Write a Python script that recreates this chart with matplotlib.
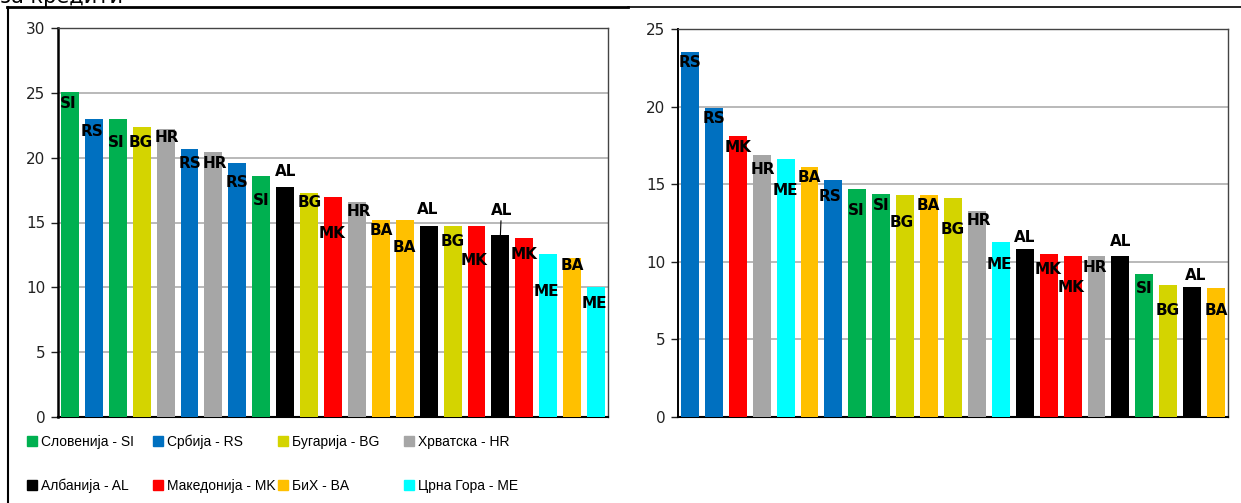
import matplotlib.pyplot as plt
from matplotlib.patches import Patch
from matplotlib.lines import Line2D

# colours per country code
colors = {
    "SI": "#00B050", "RS": "#0070C0", "BG": "#D4D400", "HR": "#A6A6A6",
    "AL": "#000000", "MK": "#FF0000", "BA": "#FFC000", "ME": "#00FFFF",
}
legend_names = ["Словенија - SI", "Србија - RS", "Бугарија - BG", "Хрватска - HR",
                "Албанија - AL", "Македонија - MK", "БиХ - BA", "Црна Гора - ME"]
legend_codes = ["SI", "RS", "BG", "HR", "AL", "MK", "BA", "ME"]

left_codes = ["SI", "RS", "SI", "BG", "HR", "RS", "HR", "RS", "SI", "AL", "BG", "MK",
              "HR", "BA", "BA", "AL", "BG", "MK", "AL", "MK", "ME", "BA", "ME"]
left_values = [25.1, 23.0, 23.0, 22.4, 22.2, 20.7, 20.4, 19.6, 18.6, 17.7, 17.3, 17.0,
               16.6, 15.2, 15.2, 14.7, 14.7, 14.7, 14.0, 13.8, 12.6, 12.3, 10.0]

right_codes = ["RS", "RS", "MK", "HR", "ME", "BA", "RS", "SI", "SI", "BG", "BA", "BG",
               "HR", "ME", "AL", "MK", "MK", "HR", "AL", "SI", "BG", "AL", "BA"]
right_values = [23.5, 19.9, 18.1, 16.9, 16.6, 16.1, 15.3, 14.7, 14.4, 14.3, 14.3, 14.1,
                13.3, 11.3, 10.8, 10.5, 10.4, 10.4, 10.4, 9.2, 8.5, 8.4, 8.3]

# label placement relative to bar top (pixels: dx, dy; + is up)
left_dx = [-2, -2, -2, -1, 1, 0, 1, 0, 0, 0, 1, -1, 2, 0, 0, -1, 0, -2, 1, 0, -2, 0, -2]
left_dy = [-12, -13, -24, -16, -8, -15, -11, -20, -25, 16, -10, -37, -10, -11, -28, 17,
           -15, -34, 25, -16, -38, -8, -16]
right_dx = [0, 0, 0, 1, 0, 0, -3, -1, 0, -3, -1, 0, 2, -1, 0, -1, -2, -2, 0, 0, -1, 3, 0]
right_dy = [-10, -10, -11, -15, -31, -10, -17, -22, -12, -27, -10, -31, -10, -23, 12, -15,
            -32, -12, 14, -14, -25, 11, -22]

W, H = 1241, 503
fig = plt.figure(figsize=(W / 100, H / 100), dpi=100)


def draw(ax, codes, values, dxs, dys, ymax, leader=None, spine_w=1.8):
    x = list(range(len(values)))
    ax.bar(x, values, width=0.75, color=[colors[c] for c in codes], zorder=3)
    ax.set_xlim(-0.5, len(values) - 0.5)
    ax.set_ylim(0, ymax)
    ax.set_yticks(range(0, ymax + 1, 5))
    ax.set_xticks([])
    ax.grid(axis="y", color="#ADADAD", lw=1.2, zorder=0)
    ax.tick_params(axis="y", length=5, width=1, labelsize=11, pad=4, colors="#222222")
    for s in ["top", "right"]:
        ax.spines[s].set_color("#444444")
        ax.spines[s].set_linewidth(1)
    ax.spines["left"].set_linewidth(spine_w)
    ax.spines["bottom"].set_linewidth(1.5)
    for i, (c, v) in enumerate(zip(codes, values)):
        arrow = None
        if leader is not None and i == leader:
            arrow = dict(arrowstyle="-", color="black", lw=0.8, shrinkA=0, shrinkB=0)
        ax.annotate(c, (i, v), xytext=(dxs[i] * 0.72, dys[i] * 0.72),
                    textcoords="offset points", ha="center", va="center",
                    fontsize=11, fontweight="bold", color="black", zorder=5,
                    arrowprops=arrow)


ax1 = fig.add_axes([58 / W, 1 - 417 / H, 550 / W, 389 / H])
draw(ax1, left_codes, left_values, left_dx, left_dy, 30, leader=18)

ax2 = fig.add_axes([678 / W, 1 - 417 / H, 550 / W, 388 / H])
draw(ax2, right_codes, right_values, right_dx, right_dy, 25, spine_w=1.4)

# legend: 2 rows x 4 fixed columns like the original layout
col_x = [27, 153, 278, 404]
row_y = [442, 486]
for k, (code, name) in enumerate(zip(legend_codes, legend_names)):
    px, py = col_x[k % 4], row_y[k // 4]
    fig.legend([Patch(color=colors[code])], [name], loc="center left",
               bbox_to_anchor=(px / W, 1 - py / H), frameon=False,
               prop={"family": ["Liberation Sans", "DejaVu Sans"], "size": 10},
               handlelength=0.75, handleheight=0.75, handletextpad=0.25,
               borderaxespad=0, borderpad=0)

# frame lines and the clipped heading
fig.add_artist(Line2D([7 / W, 628 / W], [1 - 7 / H, 1 - 7 / H], color="black", lw=2))
fig.add_artist(Line2D([628 / W, 1], [1 - 6.5 / H, 1 - 6.5 / H], color="black", lw=1.2))
fig.add_artist(Line2D([7.5 / W, 7.5 / W], [0, 1 - 7 / H], color="black", lw=1.5))
fig.text(0 / W, 1 - 3 / H, "за кредити", fontsize=15, va="baseline", ha="left")

fig.savefig("out.png", dpi=100)
